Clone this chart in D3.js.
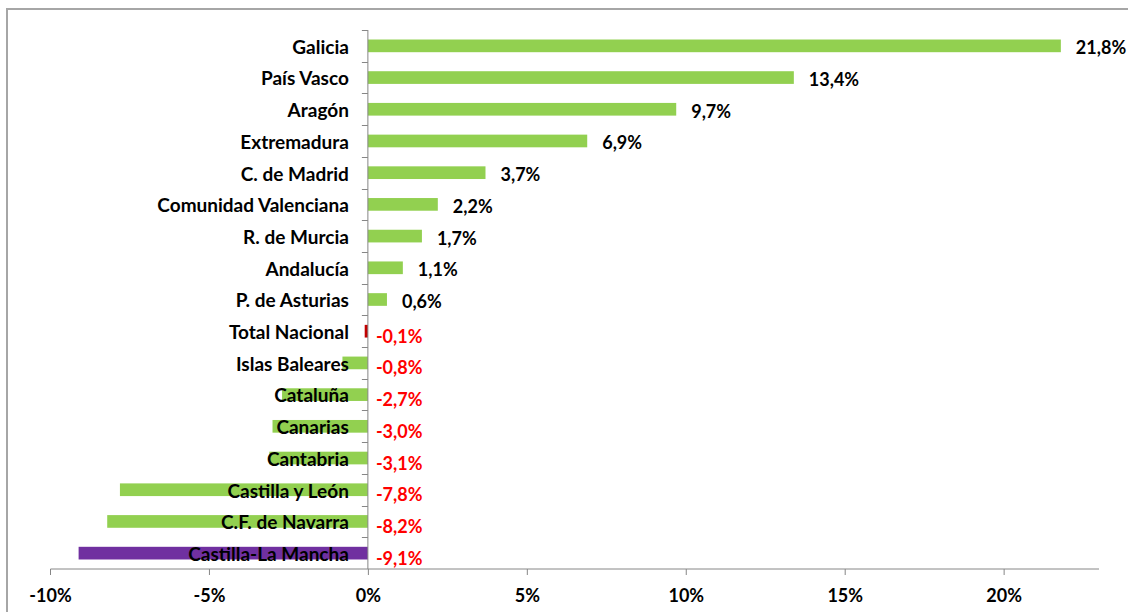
<!DOCTYPE html>
<html>
<head>
<meta charset="utf-8">
<script src="https://cdn.jsdelivr.net/npm/d3@7"></script>
<style>
  body { margin: 0; background: #fff; }
  svg text { font-family: Lato, "Open Sans", sans-serif; font-weight: 700; }
</style>
</head>
<body>
<svg id="chart" width="1128" height="612"></svg>
<script>
// regions, sorted as in the chart (top to bottom)
const regions = [
  "Galicia", "País Vasco", "Aragón", "Extremadura", "C. de Madrid",
  "Comunidad Valenciana", "R. de Murcia", "Andalucía", "P. de Asturias",
  "Total Nacional", "Islas Baleares", "Cataluña", "Canarias", "Cantabria",
  "Castilla y León", "C.F. de Navarra", "Castilla-La Mancha"
];
// variation in %
const values = [21.8, 13.4, 9.7, 6.9, 3.7, 2.2, 1.7, 1.1, 0.6, -0.1, -0.8, -2.7, -3.0, -3.1, -7.8, -8.2, -9.1];
const xTicks = [-10, -5, 0, 5, 10, 15, 20];

const svg = d3.select("#chart");
const margin = { top: 30, right: 29, bottom: 43, left: 50 };
const width = 1128 - margin.left - margin.right;
const height = 612 - margin.top - margin.bottom;

// outer chart frame (cut by the page edge like in the original)
svg.append("rect")
  .attr("x", 7).attr("y", 9)
  .attr("width", 1140).attr("height", 620)
  .attr("fill", "none")
  .attr("stroke", "#a6a6a6")
  .attr("stroke-width", 2);

const g = svg.append("g").attr("transform", `translate(${margin.left},${margin.top})`);

const x = d3.scaleLinear().domain([-10, 23]).range([0, width]);
const y = d3.scaleBand().domain(regions).range([0, height]).paddingInner(0.6).paddingOuter(0.3);

const barColor = (name, v) => {
  if (name === "Total Nacional") return "#c00000";
  if (name === "Castilla-La Mancha") return "#7030a0";
  return "#92d050";
};

// bars
g.selectAll(".bar")
  .data(regions)
  .enter()
  .append("rect")
  .attr("class", "bar")
  .attr("x", (d, i) => x(Math.min(0, values[i])))
  .attr("y", d => y(d))
  .attr("width", (d, i) => Math.abs(x(values[i]) - x(0)))
  .attr("height", y.bandwidth())
  .attr("fill", (d, i) => barColor(d, values[i]));

// x axis
const xAxis = g.append("g")
  .attr("transform", `translate(0,${height})`)
  .call(d3.axisBottom(x).tickValues(xTicks).tickSize(6).tickPadding(14)
    .tickFormat(d => d + "%"));
xAxis.select(".domain").attr("stroke", "#868686").attr("d", `M0.5,0H${width}`);
xAxis.selectAll(".tick line").attr("stroke", "#868686");
xAxis.selectAll("text").attr("fill", "#000").style("font-size", "18px");

// y axis at zero
const step = y.step();
const yAxis = g.append("g").attr("transform", `translate(${x(0)},0)`);
yAxis.append("line")
  .attr("y1", 0).attr("y2", height)
  .attr("stroke", "#868686");
yAxis.selectAll(".ytick")
  .data(d3.range(regions.length))
  .enter()
  .append("line")
  .attr("x1", -6).attr("x2", 0)
  .attr("y1", i => Math.round(i * step) + 0.5)
  .attr("y2", i => Math.round(i * step) + 0.5)
  .attr("stroke", "#868686");

// category labels (drawn over the bars)
g.selectAll(".cat")
  .data(regions)
  .enter()
  .append("text")
  .attr("class", "cat")
  .attr("x", x(0) - 19)
  .attr("y", d => y(d) + y.bandwidth() / 2 + 1)
  .attr("dy", "0.36em")
  .attr("text-anchor", "end")
  .style("font-size", "19px")
  .attr("fill", "#000")
  .text(d => d);

// value labels
const fmt = v => d3.format(".1f")(v).replace(".", ",").replace("−", "-") + "%";
g.selectAll(".val")
  .data(regions)
  .enter()
  .append("text")
  .attr("class", "val")
  .attr("x", (d, i) => values[i] >= 0 ? x(values[i]) + 15 : x(0) + 8)
  .attr("y", (d, i) => y(d) + y.bandwidth() / 2 + (values[i] >= 0 ? 2 : 5))
  .attr("dy", "0.36em")
  .style("font-size", "18px")
  .attr("fill", (d, i) => values[i] >= 0 ? "#000" : "#ff0000")
  .text((d, i) => fmt(values[i]));
</script>
</body>
</html>
